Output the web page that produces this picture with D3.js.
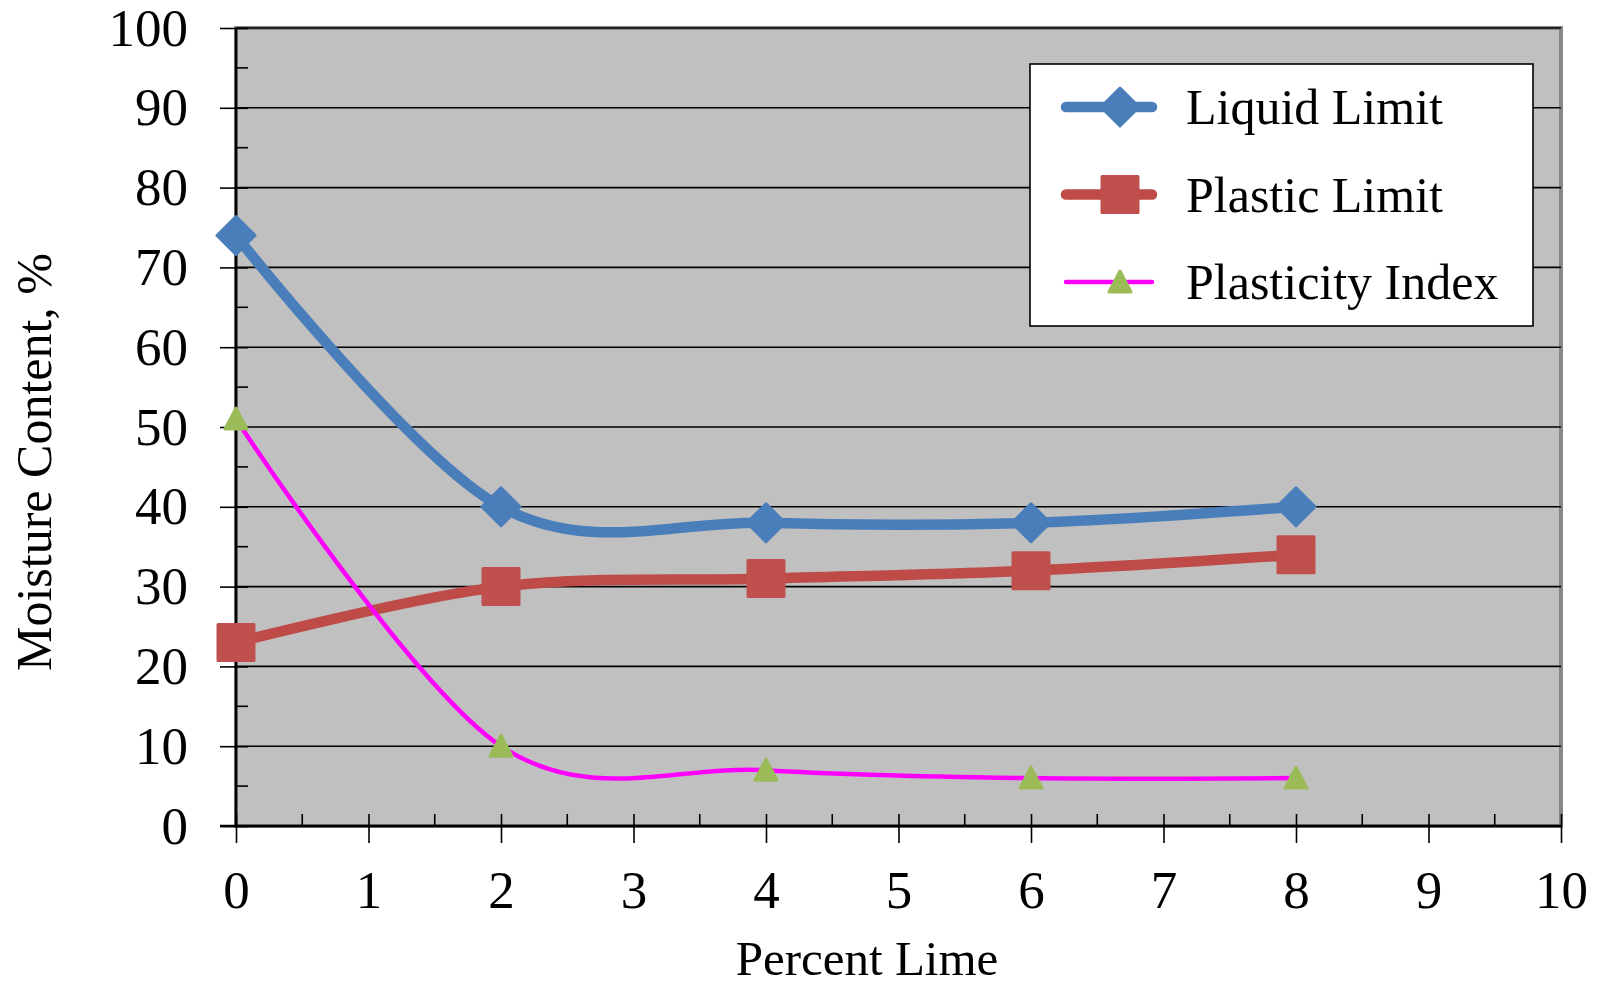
<!DOCTYPE html>
<html>
<head>
<meta charset="utf-8">
<script src="https://cdn.jsdelivr.net/npm/d3@7"></script>
<style>
  body { margin: 0; background: #fff; }
  svg { display: block; font-family: "Liberation Serif", "Times New Roman", serif; }
</style>
</head>
<body>
<svg id="chart" width="1599" height="986"></svg>
<script>
// data
const percentLime = [0, 2, 4, 6, 8];
const liquidLimit = [74, 40, 38, 38, 40];
const plasticLimit = [23, 30, 31, 32, 34];
const plasticityIndex = [51, 10, 7, 6, 6];
const xTicks = [0, 1, 2, 3, 4, 5, 6, 7, 8, 9, 10];
const yTicks = [0, 10, 20, 30, 40, 50, 60, 70, 80, 90, 100];
const seriesNames = ['Liquid Limit', 'Plastic Limit', 'Plasticity Index'];

const svg = d3.select('#chart'),
  margin = { top: 28, right: 38, bottom: 160, left: 236 },
  width = 1599 - margin.left - margin.right,
  height = 986 - margin.top - margin.bottom;

const x = d3.scaleLinear().domain([0, 10]).range([margin.left, margin.left + width]);
const y = d3.scaleLinear().domain([0, 100]).range([margin.top + height, margin.top]);

// plot area
svg.append('rect')
  .attr('x', x(0)).attr('y', y(100))
  .attr('width', x(10) - x(0)).attr('height', y(0) - y(100))
  .attr('fill', '#c0c0c0')
  .attr('stroke', '#878787')
  .attr('stroke-width', 4);

// gridlines
svg.append('g')
  .selectAll('line')
  .data(yTicks.filter(d => d > 0))
  .join('line')
  .attr('x1', x(0)).attr('x2', x(10))
  .attr('y1', d => y(d)).attr('y2', d => y(d))
  .attr('stroke', '#000')
  .attr('stroke-width', 1.6);

// y axis
const yAxis = d3.axisLeft(y).tickValues(yTicks).tickSize(16);
const yAxisGroup = svg.append('g').attr('transform', `translate(${x(0)},0)`).call(yAxis);
yAxisGroup.select('.domain').remove();
yAxisGroup.selectAll('line').attr('x2', -16).attr('x1', 12).attr('stroke-width', 1.6);
yAxisGroup.selectAll('text')
  .attr('font-size', 53)
  .attr('font-family', '"Liberation Serif", serif')
  .attr('fill', '#000')
  .attr('dy', 17)
  .attr('x', -48);

// y minor ticks
svg.append('g')
  .selectAll('line')
  .data(d3.range(5, 100, 10))
  .join('line')
  .attr('x1', x(0)).attr('x2', x(0) + 12)
  .attr('y1', d => y(d)).attr('y2', d => y(d))
  .attr('stroke', '#000').attr('stroke-width', 1.6);

// x axis
const xAxis = d3.axisBottom(x).tickValues(xTicks).tickSize(17);
const xAxisGroup = svg.append('g').attr('transform', `translate(0,${y(0)})`).call(xAxis);
xAxisGroup.select('.domain').remove();
xAxisGroup.selectAll('line').attr('y1', -12).attr('stroke-width', 1.6);
xAxisGroup.selectAll('text')
  .attr('font-size', 53)
  .attr('font-family', '"Liberation Serif", serif')
  .attr('fill', '#000')
  .attr('dy', null)
  .attr('y', 82);

// x minor ticks
svg.append('g')
  .selectAll('line')
  .data(d3.range(0.5, 10, 1))
  .join('line')
  .attr('x1', d => x(d)).attr('x2', d => x(d))
  .attr('y1', y(0) - 12).attr('y2', y(0))
  .attr('stroke', '#000').attr('stroke-width', 1.6);

// axis lines
svg.append('line')
  .attr('x1', x(0)).attr('x2', x(0)).attr('y1', y(100)).attr('y2', y(0) + 1)
  .attr('stroke', '#000').attr('stroke-width', 2.5);
svg.append('line')
  .attr('x1', x(0) - 16).attr('x2', x(10)).attr('y1', y(0)).attr('y2', y(0))
  .attr('stroke', '#000').attr('stroke-width', 2.5);

// axis titles
svg.append('text')
  .attr('x', 867).attr('y', 975)
  .attr('text-anchor', 'middle')
  .attr('font-size', 49)
  .text('Percent Lime');

svg.append('text')
  .attr('transform', 'translate(51,462) rotate(-90)')
  .attr('text-anchor', 'middle')
  .attr('font-size', 50)
  .text('Moisture Content, %');

// series
const line = d3.line()
  .x(d => x(d[0]))
  .y(d => y(d[1]))
  .curve(d3.curveCardinal.tension(0));

const series = [
  { name: seriesNames[0], values: liquidLimit, color: '#4a7ebb', width: 10.5, marker: 'diamond', mColor: '#4a7ebb' },
  { name: seriesNames[1], values: plasticLimit, color: '#be4b48', width: 10.5, marker: 'square', mColor: '#c0504d' },
  { name: seriesNames[2], values: plasticityIndex, color: '#ff00ff', width: 4.5, marker: 'triangle', mColor: '#9bbb59' }
];

function drawMarker(g, type, color) {
  if (type === 'diamond') {
    g.append('path').attr('d', 'M0,-19L19,0L0,19L-19,0Z')
      .attr('fill', color).attr('stroke', color).attr('stroke-width', 3).attr('stroke-linejoin', 'round');
  } else if (type === 'square') {
    g.append('rect').attr('x', -18).attr('y', -18).attr('width', 36).attr('height', 36)
      .attr('fill', color).attr('stroke', color).attr('stroke-width', 3).attr('stroke-linejoin', 'round');
  } else {
    g.append('path').attr('d', 'M0,-11L11,10L-11,10Z')
      .attr('fill', color).attr('stroke', color).attr('stroke-width', 3).attr('stroke-linejoin', 'round');
  }
}

series.forEach(s => {
  const pts = percentLime.map((p, i) => [p, s.values[i]]);
  svg.append('path')
    .datum(pts)
    .attr('d', line)
    .attr('fill', 'none')
    .attr('stroke', s.color)
    .attr('stroke-width', s.width)
    .attr('stroke-linecap', 'round')
    .attr('stroke-linejoin', 'round');
  svg.append('g')
    .selectAll('g')
    .data(pts)
    .join('g')
    .attr('transform', d => `translate(${x(d[0])},${y(d[1])})`)
    .each(function () { drawMarker(d3.select(this), s.marker, s.mColor); });
});

// legend
const legend = svg.append('g');
legend.append('rect')
  .attr('x', 1030).attr('y', 64).attr('width', 503).attr('height', 262)
  .attr('fill', '#fff').attr('stroke', '#000').attr('stroke-width', 1.6);

series.forEach((s, i) => {
  const ly = 107 + i * 87.5;
  legend.append('line')
    .attr('x1', 1066).attr('x2', 1152).attr('y1', ly).attr('y2', ly)
    .attr('stroke', s.color).attr('stroke-width', s.width)
    .attr('stroke-linecap', 'round');
  drawMarker(legend.append('g').attr('transform', `translate(1120,${ly})`), s.marker, s.mColor);
  legend.append('text')
    .attr('x', 1186).attr('y', ly + 17)
    .attr('font-size', 50)
    .text(s.name);
});
</script>
</body>
</html>
